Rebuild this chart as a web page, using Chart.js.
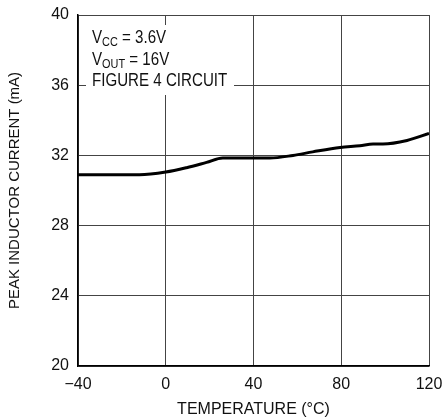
<!DOCTYPE html>
<html>
<head>
<meta charset="utf-8">
<script src="https://cdn.jsdelivr.net/npm/chart.js@4"></script>
<style>
  html, body { margin: 0; padding: 0; background: #fff; }
  #wrap { width: 444px; height: 419px; }
</style>
</head>
<body>
<div id="wrap"><canvas id="c" width="444" height="419"></canvas></div>
<script>
// Peak inductor current vs temperature
const temperatures = [-40, -12, 0, 9.5, 18.6, 26, 40, 47.5, 58, 67, 79.5, 88.5, 94.5, 99, 110, 120];
const peakCurrent  = [30.9, 30.9, 31.05, 31.3, 31.6, 31.85, 31.85, 31.85, 32.0, 32.2, 32.45, 32.55, 32.65, 32.65, 32.85, 33.25];
const xTicks = [-40, 0, 40, 80, 120];
const yTicks = [20, 24, 28, 32, 36, 40];
const noteLines = [
  { main: 'V', sub: 'CC', rest: ' = 3.6V' },
  { main: 'V', sub: 'OUT', rest: ' = 16V' },
  { main: 'FIGURE 4 CIRCUIT', sub: '', rest: '' }
];

const FONT = "'Liberation Sans Narrow', 'Liberation Sans', Arial, sans-serif";
const minus = v => String(v).replace('-', '\u2212');

// Condition notes drawn (slightly condensed) on a white patch over the grid
const notePlugin = {
  id: 'notes',
  afterDatasetsDraw(chart) {
    const ctx = chart.ctx;
    const x0 = chart.scales.x.left;
    const y0 = chart.scales.y.top;
    ctx.save();
    ctx.fillStyle = '#fff';
    ctx.fillRect(x0 + 8, y0 + 10, 148, 70);
    ctx.fillStyle = '#111';
    ctx.textBaseline = 'alphabetic';
    const sx = 0.84;
    noteLines.forEach((ln, i) => {
      const y = y0 + 28 + i * 21.5;
      ctx.save();
      ctx.translate(x0 + 14, y);
      ctx.scale(sx, 1);
      let x = 0;
      ctx.font = '18px ' + FONT;
      ctx.fillText(ln.main, x, 0);
      x += ctx.measureText(ln.main).width;
      if (ln.sub) {
        ctx.font = '13px ' + FONT;
        ctx.fillText(ln.sub, x, 3);
        x += ctx.measureText(ln.sub).width;
      }
      if (ln.rest) {
        ctx.font = '18px ' + FONT;
        ctx.fillText(ln.rest, x, 0);
      }
      ctx.restore();
    });
    ctx.restore();
  }
};

new Chart(document.getElementById('c'), {
  type: 'line',
  data: {
    datasets: [{
      data: temperatures.map((t, i) => ({ x: t, y: peakCurrent[i] })),
      borderColor: '#000',
      borderWidth: 3,
      pointRadius: 0,
      tension: 0.3,
      cubicInterpolationMode: 'monotone'
    }]
  },
  plugins: [notePlugin],
  options: {
    responsive: false,
    animation: false,
    devicePixelRatio: 1,
    layout: { padding: { top: 15, right: 0, left: 0, bottom: 0 } },
    plugins: { legend: { display: false }, tooltip: { enabled: false } },
    scales: {
      x: {
        type: 'linear',
        min: -40, max: 120,
        afterBuildTicks: s => { s.ticks = xTicks.map(v => ({ value: v })); },
        afterFit: s => { s.height = 53; s.paddingLeft = 0; s.paddingRight = 15; },
        grid: { color: '#444', lineWidth: 1, drawTicks: false },
        border: { color: '#000', width: 1.5 },
        ticks: { padding: 9, color: '#111', font: { family: FONT, size: 16 }, callback: v => minus(v), maxRotation: 0 },
        title: { display: true, text: 'TEMPERATURE (°C)', color: '#111', font: { family: FONT, size: 16 }, padding: { top: 4, bottom: 0 } }
      },
      y: {
        min: 20, max: 40,
        afterBuildTicks: s => { s.ticks = yTicks.map(v => ({ value: v })); },
        afterFit: s => { s.width = 78; s.paddingTop = 0; s.paddingBottom = 0; },
        grid: { color: '#444', lineWidth: 1, drawTicks: false },
        border: { color: '#000', width: 1.5 },
        ticks: { padding: 9, color: '#111', font: { family: FONT, size: 16 } },
        title: { display: true, text: 'PEAK INDUCTOR CURRENT (mA)', color: '#111', font: { family: FONT, size: 15 }, padding: { top: 6, bottom: 0 } }
      }
    }
  }
});
</script>
</body>
</html>
